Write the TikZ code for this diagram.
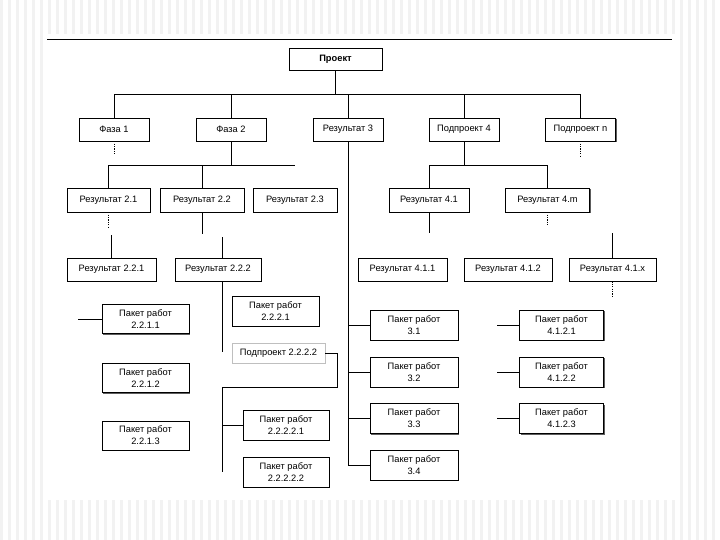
\documentclass[tikz,border=0pt]{standalone}
\usepackage{fontspec}
\setmainfont{Liberation Sans}
\usetikzlibrary{shadows}
\begin{document}
\begin{tikzpicture}[x=1pt,y=-1pt,
  txt/.style={font=\fontsize{9.3}{12}\selectfont},
  box/.style={draw=black,line width=0.6pt,fill=white,inner sep=1pt,align=center,txt,
    drop shadow={shadow xshift=1.2pt,shadow yshift=-1.2pt,fill=black!70,opacity=0.9}},
  wh/.style 2 args={minimum width=#1pt,minimum height=#2pt},
  faint/.style={draw=black!25,line width=0.5pt,fill=white,inner sep=1pt,txt,
    drop shadow={shadow xshift=1pt,shadow yshift=-1pt,fill=black!15,opacity=1}},
  link/.style={draw=black,line width=0.7pt},
  dlink/.style={link,dash pattern=on 1.2pt off 1.2pt}]
% background
\useasboundingbox (0,0) rectangle (720,540);
\foreach \i in {0,8,...,720} \fill[black!5] (\i,0) rectangle ++(3,540);
\fill[white] (45,34) rectangle (676,500);
\draw[line width=1.2pt] (47,39.5) -- (672,39.5);

% nodes
\node[box,wh={93}{22},font=\fontsize{9.3}{12}\selectfont\bfseries] (proj) at (335.5,59) {Проект};

\node[box,wh={70}{23}] (f1) at (114,129.5) {Фаза 1};
\node[box,wh={70}{23}] (f2) at (231,129.5) {Фаза 2};
\node[box,wh={70}{23}] (r3) at (348,129.5) {Результат 3};
\node[box,wh={70}{23}] (p4) at (464,129.5) {Подпроект 4};
\node[box,wh={70}{23}] (pn) at (580.5,129.5) {Подпроект n};

\node[box,wh={83}{24}] (r21) at (108.5,200) {Результат 2.1};
\node[box,wh={84}{24}] (r22) at (202,200) {Результат 2.2};
\node[box,wh={84}{24}] (r23) at (295,200) {Результат 2.3};
\node[box,wh={80}{24}] (r41) at (429,200) {Результат 4.1};
\node[box,wh={84}{24}] (r4m) at (547.5,200) {Результат 4.m};

\node[box,wh={89}{23}] (r221) at (111.5,269.5) {Результат 2.2.1};
\node[box,wh={86}{23}] (r222) at (218,269.5) {Результат 2.2.2};
\node[box,wh={89}{23}] (r411) at (402.5,269.5) {Результат 4.1.1};
\node[box,wh={88}{23}] (r412) at (508,269.5) {Результат 4.1.2};
\node[box,wh={87}{23}] (r41x) at (612.5,269.5) {Результат 4.1.x};

\node[box,wh={87}{29}] (p2211) at (145.5,319) {Пакет работ\\2.2.1.1};
\node[box,wh={87}{29}] (p2212) at (145.5,378) {Пакет работ\\2.2.1.2};
\node[box,wh={87}{29}] (p2213) at (145.5,435.5) {Пакет работ\\2.2.1.3};

\node[box,wh={87}{30}] (p2221) at (275.5,311) {Пакет работ\\2.2.2.1};
\node[faint,wh={93}{20}] (sp) at (278.5,353) {Подпроект 2.2.2.2};
\node[box,wh={86}{30}] (p22221) at (286,425) {Пакет работ\\2.2.2.2.1};
\node[box,wh={86}{30}] (p22222) at (286,472) {Пакет работ\\2.2.2.2.2};

\node[box,wh={88}{30}] (p31) at (414,325) {Пакет работ\\3.1};
\node[box,wh={88}{30}] (p32) at (414,372) {Пакет работ\\3.2};
\node[box,wh={88}{30}] (p33) at (414,418.5) {Пакет работ\\3.3};
\node[box,wh={88}{30}] (p34) at (414,465) {Пакет работ\\3.4};

\node[box,wh={84}{30}] (p4121) at (561.5,325) {Пакет работ\\4.1.2.1};
\node[box,wh={84}{30}] (p4122) at (561.5,372) {Пакет работ\\4.1.2.2};
\node[box,wh={84}{30}] (p4123) at (561.5,418.5) {Пакет работ\\4.1.2.3};

% top bus
\coordinate (busL) at (114,94);
\coordinate (busR) at (580.5,94);
\draw[link] (proj.south) -- (proj.south |- busL);
\draw[link] (busL) -- (busR);
\foreach \n in {f1,f2,r3,p4,pn} \draw[link] (\n.north) -- (\n.north |- busL);

% phase 2 group
\coordinate (b2R) at (295,165);
\draw[link] (f2.south) -- (f2.south |- b2R);
\draw[link] (r21.north |- b2R) -- (b2R);
\draw[link] (r21.north) -- (r21.north |- b2R);
\draw[link] (r22.north) -- (r22.north |- b2R);

% subproject 4 group
\coordinate (b4) at (464,165);
\draw[link] (p4.south) -- (b4);
\draw[link] (r41.north |- b4) -- (r4m.north |- b4);
\draw[link] (r41.north) -- (r41.north |- b4);
\draw[link] (r4m.north) -- (r4m.north |- b4);

% dashed stubs
\draw[dlink] (f1.south) -- ++(0,14);
\draw[dlink] (pn.south) -- ++(0,15);
\draw[dlink] (r21.south) -- ++(0,15);
\draw[dlink] (r4m.south) -- ++(0,13);
\draw[dlink] (r41x.south) -- ++(0,15);

% broken solid segments
\draw[link] (r221.north) -- ++(0,-23);
\draw[link] (r22.south) -- ++(0,22);
\coordinate (c222) at (222,237);
\coordinate (c222b) at (222,352);
\draw[link] (c222) -- (c222 |- r222.north);
\draw[link] (c222 |- r222.south) -- (c222b);
\draw[link] (r41.south) -- ++(0,21);
\draw[link] (r41x.north) -- ++(0,-25);

% result 3 spine
\coordinate (r3end) at (348,465);
\draw[link] (r3.south) -- (r3end);
\foreach \n in {p31,p32,p33,p34} \draw[link] (\n.west) -- (\n.west -| r3end);

% package stubs
\draw[link] (p2211.west) -- ++(-24,0);
\foreach \n in {p4121,p4122,p4123} \draw[link] (\n.west) -- ++(-22,0);

% subproject 2.2.2.2
\coordinate (sA) at (337,387);
\coordinate (sB) at (222,472);
\draw[link] (sp.east) -| (sA) -- (sA -| sB) -- (sB);
\draw[link] (p22221.west) -- (p22221.west -| sB);
\end{tikzpicture}
\end{document}
